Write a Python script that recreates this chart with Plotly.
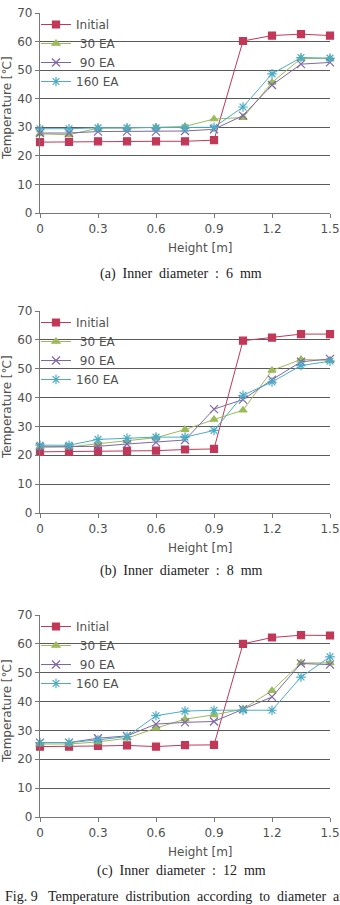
import plotly.graph_objects as go

# ---------------- data ----------------
heights = [0, 0.15, 0.3, 0.45, 0.6, 0.75, 0.9, 1.05, 1.2, 1.35, 1.5]
series_names = ["Initial", " 30 EA", " 90 EA", "160 EA"]

# (a) inner diameter 6 mm
a_initial = [24.8, 24.9, 25.1, 25.1, 25.1, 25.1, 25.5, 60.2, 62.1, 62.6, 62.1]
a_30ea = [27.7, 27.4, 29.7, 29.7, 30.0, 30.3, 32.9, 33.4, 45.7, 54.1, 54.0]
a_90ea = [28.0, 28.0, 28.5, 28.5, 28.5, 28.7, 29.3, 34.1, 44.8, 52.1, 52.7]
a_160ea = [29.5, 29.5, 29.8, 29.8, 29.8, 29.8, 30.0, 37.1, 48.7, 54.4, 54.2]

# (b) inner diameter 8 mm
b_initial = [21.2, 21.3, 21.5, 21.5, 21.6, 22.0, 22.2, 59.7, 60.8, 62.0, 62.0]
b_30ea = [22.9, 22.9, 24.0, 25.0, 26.1, 28.9, 32.4, 35.6, 49.4, 53.2, 52.9]
b_90ea = [22.9, 22.9, 23.1, 23.9, 24.5, 25.3, 36.0, 39.3, 46.2, 52.4, 53.4]
b_160ea = [23.5, 23.5, 25.5, 25.9, 26.3, 26.3, 28.6, 40.8, 45.4, 51.1, 52.6]

# (c) inner diameter 12 mm
c_initial = [24.4, 24.4, 24.6, 24.8, 24.4, 24.9, 25.0, 60.0, 62.2, 63.0, 62.9]
c_30ea = [25.3, 25.3, 26.0, 27.3, 30.8, 33.9, 35.4, 37.4, 43.8, 53.4, 53.4]
c_90ea = [25.8, 25.8, 27.3, 28.1, 32.2, 32.8, 33.1, 37.4, 41.6, 53.2, 52.8]
c_160ea = [25.8, 25.8, 26.7, 27.9, 35.1, 36.7, 37.0, 37.0, 37.0, 48.5, 55.5]

panels = [
    [a_initial, a_30ea, a_90ea, a_160ea],
    [b_initial, b_30ea, b_90ea, b_160ea],
    [c_initial, c_30ea, c_90ea, c_160ea],
]
captions = [
    "(a)\u00a0 Inner\u00a0 diameter\u00a0 :\u00a0 6\u00a0 mm",
    "(b)\u00a0 Inner\u00a0 diameter\u00a0 :\u00a0 8\u00a0 mm",
    "(c)\u00a0 Inner\u00a0 diameter\u00a0 :\u00a0 12\u00a0 mm",
]
fig_caption = "Fig. 9\u00a0\u00a0 Temperature\u00a0 distribution\u00a0 according\u00a0 to\u00a0 diameter\u00a0 and\u00a0 number"
x_ticks = [0, 0.3, 0.6, 0.9, 1.2, 1.5]
x_ticklabels = ["0", "0.3", "0.6", "0.9", "1.2", "1.5"]

# ---------------- styles ----------------
W, H = 340, 905
colors = ["#C23858", "#9BBB59", "#7E68A8", "#4BACC6"]
symbols = ["square", "triangle-up", "x-thin-open", "asterisk-open"]
msizes = [7, 7, 8, 8]
SANS = "DejaVu Sans, Verdana, sans-serif"
SERIF = "Liberation Serif, Times New Roman, serif"
TXT = "#505050"

# plot areas in pixels (top, bottom)
plot_px = [(13, 213), (311, 513), (615, 817)]
x_px = (40, 330)

def py(p):
    return 1 - p / H

fig = go.Figure()
annotations = []
layout = {}

for i, (vals, (top, bot)) in enumerate(zip(panels, plot_px)):
    n = i + 1
    xa = "x" if n == 1 else f"x{n}"
    ya = "y" if n == 1 else f"y{n}"
    lg = "legend" if n == 1 else f"legend{n}"
    for j, v in enumerate(vals):
        fig.add_trace(go.Scatter(
            x=heights, y=v, name=series_names[j], xaxis=xa, yaxis=ya,
            mode="lines+markers", legend=lg,
            legendgroup="init" if j == 0 else "ea",
            line=dict(color=colors[j], width=1),
            marker=dict(symbol=symbols[j], size=msizes[j], color=colors[j],
                        line=dict(color=colors[j], width=1.2)),
            cliponaxis=False,
        ))
    xkey = "xaxis" if n == 1 else f"xaxis{n}"
    ykey = "yaxis" if n == 1 else f"yaxis{n}"
    layout[xkey] = dict(
        domain=[x_px[0] / W, x_px[1] / W], anchor=ya, range=[0, 1.5],
        tickvals=x_ticks, ticktext=x_ticklabels, ticks="outside", ticklen=4,
        tickcolor="#777", showline=True, linecolor="#777", linewidth=1.2,
        showgrid=False, zeroline=False, ticklabeloverflow="allow",
        automargin=False,
        tickfont=dict(family=SANS, size=12, color=TXT),
    )
    layout[ykey] = dict(
        domain=[py(bot), py(top)], anchor=xa, range=[0, 70], dtick=10,
        ticks="outside", ticklen=4, tickcolor="#777",
        showline=True, linecolor="#777", linewidth=1.2,
        showgrid=True, gridcolor="#5a5a5a", gridwidth=1.3, zeroline=False,
        ticklabeloverflow="allow", automargin=False,
        tickfont=dict(family=SANS, size=12, color=TXT),
    )
    layout[lg] = dict(
        x=36 / W, y=py(top - 3), xanchor="left", yanchor="top",
        bgcolor="rgba(0,0,0,0)", traceorder="grouped", tracegroupgap=0,
        font=dict(family=SANS, size=12, color=TXT),
        itemwidth=30,
    )
    # axis titles
    annotations.append(dict(
        text="Height [m]", x=200 / W, y=py(bot + 35), xref="paper", yref="paper",
        showarrow=False, xanchor="center", yanchor="middle",
        font=dict(family=SANS, size=12, color=TXT),
    ))
    annotations.append(dict(
        text="Temperature [\u2103]", x=7 / W, y=py((top + bot) / 2 - 5),
        xref="paper", yref="paper", textangle=-90,
        showarrow=False, xanchor="center", yanchor="middle",
        font=dict(family=SANS, size=12, color=TXT),
    ))
    # caption
    cap_y = [274, 571, 871][i]
    annotations.append(dict(
        text=captions[i], x=181 / W, y=py(cap_y), xref="paper", yref="paper",
        showarrow=False, xanchor="center", yanchor="middle",
        font=dict(family=SERIF, size=14, color="#222"),
    ))

annotations.append(dict(
    text=fig_caption, x=3 / W, y=py(896), xref="paper", yref="paper",
    showarrow=False, xanchor="left", yanchor="middle",
    font=dict(family=SERIF, size=14, color="#222"),
))

fig.update_layout(
    width=W, height=H, margin=dict(l=0, r=0, t=0, b=0, autoexpand=False),
    paper_bgcolor="white", plot_bgcolor="white",
    showlegend=True, annotations=annotations, **layout,
)

fig.write_html("out.html")
